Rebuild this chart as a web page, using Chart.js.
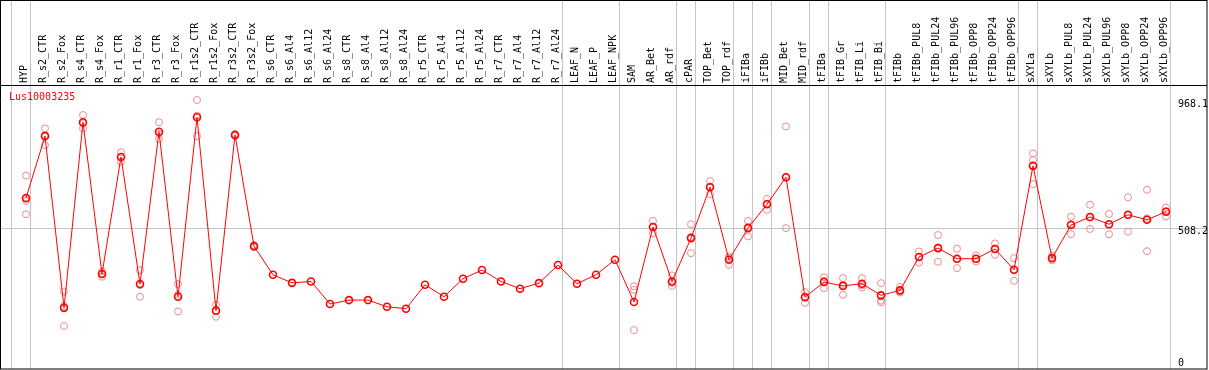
<!DOCTYPE html>
<html>
<head>
<meta charset="utf-8">
<script src="https://cdn.jsdelivr.net/npm/chart.js@4"></script>
<style>
  html, body { margin: 0; padding: 0; background: #fff; }
  canvas { display: block; }
</style>
</head>
<body>
<canvas id="chart-expr" width="1209" height="370"></canvas>
<script>
'use strict';

/* ---------- data ---------- */
const categories = [
  'HYP', 'R_s2_CTR', 'R_s2_Fox', 'R_s4_CTR', 'R_s4_Fox', 'R_r1_CTR', 'R_r1_Fox',
  'R_r3_CTR', 'R_r3_Fox', 'R_r1s2_CTR', 'R_r1s2_Fox', 'R_r3s2_CTR', 'R_r3s2_Fox',
  'R_s6_CTR', 'R_s6_Al4', 'R_s6_Al12', 'R_s6_Al24', 'R_s8_CTR', 'R_s8_Al4',
  'R_s8_Al12', 'R_s8_Al24', 'R_r5_CTR', 'R_r5_Al4', 'R_r5_Al12', 'R_r5_Al24',
  'R_r7_CTR', 'R_r7_Al4', 'R_r7_Al12', 'R_r7_Al24', 'LEAF_N', 'LEAF_P', 'LEAF_NPK',
  'SAM', 'AR_Bet', 'AR_rdf', 'cPAR', 'TOP_Bet', 'TOP_rdf', 'iFIBa', 'iFIBb',
  'MID_Bet', 'MID_rdf', 'tFIBa', 'tFIB_Gr', 'tFIB_Li', 'tFIB_Bi', 'tFIBb',
  'tFIBb_PUL8', 'tFIBb_PUL24', 'tFIBb_PUL96', 'tFIBb_OPP8', 'tFIBb_OPP24', 'tFIBb_OPP96',
  'sXYLa', 'sXYLb', 'sXYLb_PUL8', 'sXYLb_PUL24', 'sXYLb_PUL96', 'sXYLb_OPP8',
  'sXYLb_OPP24', 'sXYLb_OPP96'
];

const meanValues = [
  615, 838, 220, 888, 342, 763, 306, 854, 260, 906, 210, 842, 442,
  339, 310, 315, 234, 248, 248, 224, 217, 303, 260, 325, 356,
  315, 289, 309, 374, 307, 339, 393,
  241, 511, 315, 471, 654, 393, 507, 593, 690, 258,
  313, 299, 307, 265, 283,
  403, 435, 397, 397, 432, 357,
  731, 399, 518, 547, 521, 555, 537, 566
];

// replicate samples (null = not visible apart from the mean)
const rep1 = [
  696, 866, 279, 914, 351, 780, 356, 888, 306, 968.1, 231, 846, 446,
  null, null, null, null, null, null, null, null, null, null, null, null,
  null, null, null, null, null, null, null,
  298, 533, 337, 521, 676, 399, 533, 612, 873, 277,
  330, 327, 327, 309, 296,
  423, 482, 433, 409, 452, 399,
  776, 408, 548, 591, 558, 618, 645, 581
];
const rep2 = [
  605, 842, 226, 884, 343, 763, 302, 846, 267, 912, 211, 842, 442,
  null, null, null, null, null, null, null, null, null, null, null, null,
  null, null, null, null, null, null, null,
  285, 512, 310, 475, 657, 405, 511, 594, 690, 259,
  318, 303, 301, 246, 278,
  403, 437, 395, 395, 433, 355,
  752, 398, 521, 546, 520, 553, 542, 568
];
const rep3 = [
  557, 806, 155, 866, 332, 746, 260, 828, 207, 838, 188, 838, 438,
  null, null, null, null, null, null, null, null, null, null, null, null,
  null, null, null, null, null, null, null,
  140, 488, 299, 417, 629, 375, 477, 573, 507, 238,
  291, 267, 293, 240, 275,
  383, 386, 363, 387, 411, 317,
  665, 391, 485, 504, 485, 494, 424, 549
];

const geneName = 'Lus10003235';
const yTickValues = [0, 508.2, 968.1];
const yTickLabels = ['0', '508.2', '968.1'];
const hLineValues = [508.2];
// index of last category in each group (a separator follows it)
const groupEnds = [-1, 0, 28, 31, 34, 35, 37, 38, 39, 41, 42, 45, 52, 53, 60];

/* ---------- helpers ---------- */
const FONT = '10px "DejaVu Sans Mono", "Liberation Mono", monospace';
const RED = '#ff0000';
const REP_RED = '#ec8c8c';
const GRID = '#c4c4c4';

function toPoints(arr) {
  return arr.map((v, i) => ({ x: i, y: v }));
}

/* frame, separators, right-hand labels, gene name */
const framePlugin = {
  id: 'frame',
  beforeDatasetsDraw(chart) {
    const { ctx, chartArea: a, scales: { x, y } } = chart;
    ctx.save();
    ctx.strokeStyle = GRID;
    ctx.lineWidth = 1;
    groupEnds.forEach(i => {
      const px = Math.round(x.getPixelForValue(i + 0.21)) + 0.5;
      ctx.beginPath();
      ctx.moveTo(px, 0);
      ctx.lineTo(px, a.bottom);
      ctx.stroke();
    });
    hLineValues.forEach(v => {
      const py = Math.round(y.getPixelForValue(v)) + 0.5;
      ctx.beginPath();
      ctx.moveTo(a.left, py);
      ctx.lineTo(a.right, py);
      ctx.stroke();
    });
    ctx.restore();
  },
  afterDraw(chart) {
    const { ctx, chartArea: a, scales: { x, y } } = chart;
    ctx.save();
    // outer frame + header divider
    ctx.strokeStyle = '#000';
    ctx.lineWidth = 1;
    ctx.strokeRect(0.5, 0.5, a.right - 0.5, a.bottom - 0.5);
    ctx.beginPath();
    ctx.moveTo(0, a.top + 0.5);
    ctx.lineTo(a.right, a.top + 0.5);
    ctx.stroke();

    ctx.font = FONT;
    ctx.textBaseline = 'top';
    ctx.textAlign = 'left';
    ctx.fillStyle = '#000';
    const lx = x.getPixelForValue(categories.length - 1 + 0.21) + 8;
    yTickValues.forEach((v, k) => {
      let py = y.getPixelForValue(v) - 1;
      py = Math.min(py, a.bottom - 11);
      ctx.fillText(yTickLabels[k], lx, py);
    });

    ctx.fillStyle = RED;
    ctx.fillText(geneName, 9, a.top + 7);
    ctx.restore();
  }
};

/* ---------- chart ---------- */
const repStyle = {
  showLine: false,
  pointStyle: 'circle',
  pointRadius: 3.5,
  pointBorderWidth: 1,
  pointBorderColor: REP_RED,
  pointBackgroundColor: 'rgba(0,0,0,0)',
  pointHoverRadius: 3.5
};

new Chart(document.getElementById('chart-expr'), {
  type: 'scatter',
  data: {
    datasets: [
      {
        label: 'mean',
        data: toPoints(meanValues),
        showLine: true,
        borderColor: RED,
        borderWidth: 1,
        pointRadius: 3.5,
        pointBorderWidth: 1.6,
        pointBorderColor: RED,
        pointBackgroundColor: 'rgba(0,0,0,0)',
        pointHoverRadius: 3.5
      },
      { label: 'rep1', data: toPoints(rep1), ...repStyle },
      { label: 'rep2', data: toPoints(rep2), ...repStyle },
      { label: 'rep3', data: toPoints(rep3), ...repStyle }
    ]
  },
  options: {
    responsive: false,
    devicePixelRatio: 1,
    animation: false,
    layout: { autoPadding: false, padding: { left: 0, right: 2, top: 0, bottom: 1 } },
    plugins: {
      legend: { display: false },
      tooltip: { enabled: false }
    },
    scales: {
      x: {
        type: 'linear',
        position: 'top',
        min: -26 / 19,
        max: (1207 - 26) / 19,
        grid: { display: false, drawTicks: false },
        border: { display: false },
        afterBuildTicks: s => { s.ticks = categories.map((_, i) => ({ value: i })); },
        afterFit: s => {
          s.height = 85;
          s.paddingLeft = 0;
          s.paddingRight = 0;
        },
        ticks: {
          autoSkip: false,
          minRotation: 90,
          maxRotation: 90,
          padding: 2,
          labelOffset: 10,
          color: '#000',
          font: { family: '"DejaVu Sans Mono", monospace', size: 10 },
          callback: v => categories[v] ?? ''
        }
      },
      y: {
        display: false,
        min: 0,
        max: 1022
      }
    }
  },
  plugins: [framePlugin]
});
</script>
</body>
</html>
